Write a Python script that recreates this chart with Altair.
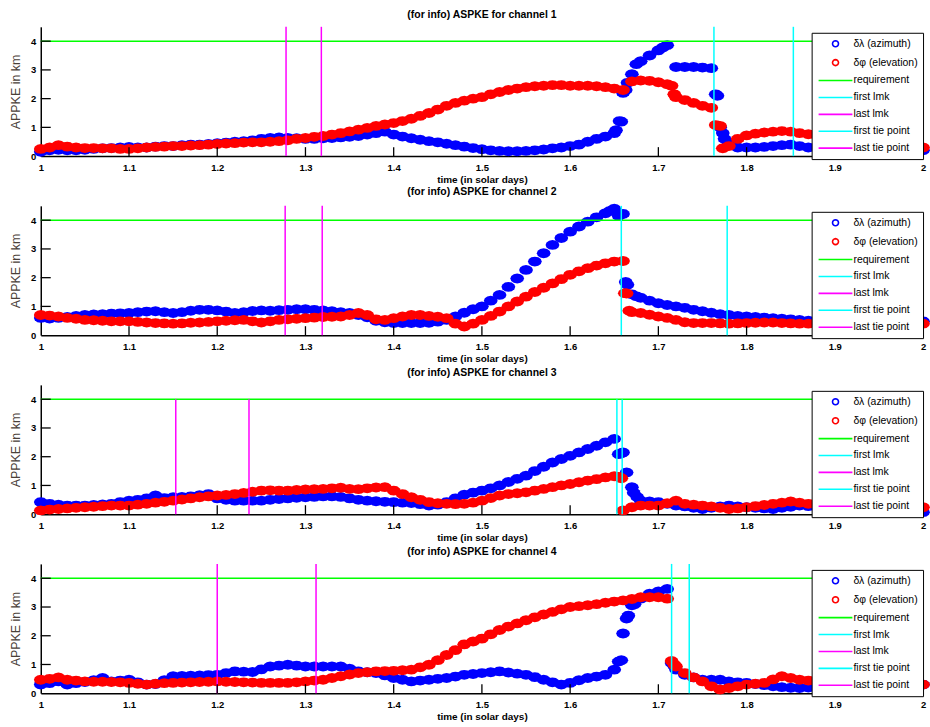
import altair as alt
import pandas as pd

# ---------------- data ----------------
TIME = [round(1 + i / 100, 2) for i in range(101)]

X_TICKS = [1.0, 1.1, 1.2, 1.3, 1.4, 1.5, 1.6, 1.7, 1.8, 1.9, 2.0]
Y_TICKS = [0, 1, 2, 3, 4]
INNER_X_TICKS = [1.1, 1.2, 1.3, 1.4, 1.5, 1.6, 1.7, 1.8, 1.9]
INNER_Y_TICKS = [1, 2, 3, 4]

LABELS = ["δλ (azimuth)", "δφ (elevation)", "requirement", "first lmk",
          "last lmk", "first tie point", "last tie point"]
COLORS = ["#0000ff", "#ff0000", "#00ff00", "#00ffff", "#ff00ff", "#00ffff", "#ff00ff"]

TITLES = ["(for info) ASPKE for channel 1", "(for info) ASPKE for channel 2",
          "(for info) ASPKE for channel 3", "(for info) ASPKE for channel 4"]

REQUIREMENT = 4.0
FIRST_LMK = [1.763, 1.658, 1.653, 1.715]
FIRST_TIE = [1.853, 1.778, 1.659, 1.735]
LAST_LMK = [1.278, 1.277, 1.153, 1.200]
LAST_TIE = [1.318, 1.319, 1.236, 1.312]
LINE_TOP = [4.5, 4.5, 4.0, 4.5]

P1_AZ = [0.15, 0.2, 0.22, 0.2, 0.2, 0.22, 0.25, 0.27, 0.28, 0.3,
         0.32, 0.3, 0.3, 0.33, 0.35, 0.35, 0.38, 0.4, 0.4, 0.42,
         0.45, 0.47, 0.5, 0.52, 0.55, 0.6, 0.63, 0.65, 0.63, 0.62,
         0.6, 0.6, 0.62, 0.63, 0.65, 0.67, 0.7, 0.75, 0.8, 0.85,
         0.75, 0.68, 0.62, 0.57, 0.52, 0.48, 0.43, 0.38, 0.33, 0.28,
         0.24, 0.2, 0.18, 0.17, 0.17, 0.18, 0.2, 0.23, 0.27, 0.3,
         0.35, 0.4, 0.5, 0.6, 0.68, 0.8, 2.2, 2.85, 3.3, 3.5,
         3.68, 3.86, 3.1, 3.1, 3.1, 3.08, 3.06, 1.0, 0.45, 0.3,
         0.3, 0.3, 0.32, 0.35, 0.38, 0.4, 0.35, 0.3, 0.3, 0.28,
         0.25, 0.25, 0.25, 0.25, 0.25, 0.25, 0.22, 0.22, 0.22, 0.2, 0.2]
P1_AZ_EXTRA = [(1.652, 0.9), (1.656, 1.22), (1.658, 1.2), (1.663, 2.3), (1.665, 2.55),
               (1.675, 3.2), (1.705, 3.78), (1.765, 2.15), (1.767, 2.1), (1.773, 0.8),
               (1.775, 0.6)]
P1_EL = [0.25, 0.3, 0.38, 0.33, 0.3, 0.28, 0.28, 0.27, 0.27, 0.25,
         0.25, 0.27, 0.3, 0.32, 0.33, 0.35, 0.35, 0.37, 0.38, 0.4,
         0.42, 0.44, 0.45, 0.47, 0.48, 0.48, 0.5, 0.52, 0.55, 0.6,
         0.63, 0.67, 0.7, 0.75, 0.8, 0.86, 0.92, 0.98, 1.05, 1.1,
         1.15, 1.22, 1.3, 1.4, 1.5, 1.62, 1.75, 1.85, 1.93, 2.0,
         2.05, 2.15, 2.23, 2.3, 2.35, 2.4, 2.43, 2.45, 2.47, 2.47,
         2.45, 2.45, 2.45, 2.43, 2.4, 2.35, 2.3, 2.6, 2.63, 2.62,
         2.57, 2.5, 2.05, 1.95, 1.85, 1.75, 1.68, 1.05, 0.35, 0.6,
         0.72, 0.78, 0.82, 0.85, 0.87, 0.85, 0.8, 0.76, 0.72, 0.68,
         0.65, 0.6, 0.55, 0.5, 0.45, 0.42, 0.38, 0.35, 0.32, 0.3, 0.3]
P1_EL_EXTRA = [(1.715, 2.45), (1.718, 2.15), (1.765, 1.08), (1.773, 0.27)]

P2_AZ = [0.6, 0.58, 0.6, 0.63, 0.67, 0.7, 0.72, 0.73, 0.75, 0.76,
         0.77, 0.8, 0.82, 0.83, 0.8, 0.77, 0.8, 0.85, 0.88, 0.88,
         0.86, 0.82, 0.77, 0.8, 0.84, 0.86, 0.85, 0.87, 0.88, 0.9,
         0.9, 0.88, 0.86, 0.83, 0.8, 0.77, 0.7, 0.62, 0.5, 0.45,
         0.42, 0.42, 0.42, 0.42, 0.43, 0.47, 0.53, 0.65, 0.78, 0.9,
         1.0, 1.2, 1.4, 1.68, 1.97, 2.27, 2.56, 2.85, 3.14, 3.38,
         3.6, 3.78, 3.95, 4.1, 4.24, 4.4, 4.22, 1.42, 1.3, 1.2,
         1.11, 1.05, 1.0, 0.95, 0.88, 0.83, 0.78, 0.73, 0.7, 0.67,
         0.65, 0.63, 0.61, 0.59, 0.57, 0.55, 0.53, 0.5, 0.48, 0.47,
         0.45, 0.45, 0.45, 0.45, 0.46, 0.46, 0.46, 0.47, 0.47, 0.48, 0.48]
P2_AZ_EXTRA = [(1.645, 4.32), (1.655, 4.15), (1.663, 1.85), (1.665, 1.75), (1.675, 1.35)]
P2_EL = [0.7, 0.68, 0.65, 0.6, 0.57, 0.53, 0.52, 0.5, 0.48, 0.48,
         0.48, 0.46, 0.44, 0.42, 0.41, 0.4, 0.41, 0.43, 0.44, 0.46,
         0.48, 0.5, 0.52, 0.53, 0.48, 0.44, 0.48, 0.53, 0.55, 0.57,
         0.59, 0.61, 0.63, 0.64, 0.65, 0.7, 0.77, 0.7, 0.55, 0.53,
         0.59, 0.65, 0.7, 0.7, 0.67, 0.64, 0.59, 0.4, 0.3, 0.4,
         0.53, 0.67, 0.82, 1.0, 1.17, 1.34, 1.5, 1.65, 1.8, 1.95,
         2.1, 2.22, 2.33, 2.42, 2.5, 2.56, 2.58, 0.8, 0.77, 0.71,
         0.65, 0.6, 0.53, 0.45, 0.42, 0.42, 0.42, 0.41, 0.4, 0.41,
         0.42, 0.43, 0.44, 0.44, 0.42, 0.41, 0.4, 0.4, 0.4, 0.4,
         0.4, 0.4, 0.4, 0.4, 0.4, 0.4, 0.4, 0.4, 0.4, 0.4, 0.4]
P2_EL_EXTRA = [(1.662, 1.46), (1.664, 1.45), (1.667, 0.85)]

P3_AZ = [0.42, 0.36, 0.33, 0.3, 0.3, 0.3, 0.32, 0.34, 0.36, 0.42,
         0.47, 0.5, 0.55, 0.65, 0.56, 0.59, 0.6, 0.62, 0.66, 0.7,
         0.55, 0.5, 0.47, 0.47, 0.47, 0.47, 0.5, 0.53, 0.55, 0.57,
         0.59, 0.6, 0.62, 0.62, 0.6, 0.55, 0.5, 0.47, 0.45, 0.43,
         0.42, 0.4, 0.39, 0.35, 0.3, 0.33, 0.42, 0.55, 0.68, 0.75,
         0.82, 0.9, 1.0, 1.12, 1.23, 1.34, 1.5, 1.65, 1.8, 1.92,
         2.03, 2.15, 2.27, 2.38, 2.5, 2.62, 2.15, 0.94, 0.47, 0.44,
         0.42, 0.36, 0.3, 0.27, 0.22, 0.18, 0.22, 0.27, 0.3, 0.27,
         0.24, 0.22, 0.2, 0.18, 0.22, 0.26, 0.3, 0.28, 0.25, 0.22,
         0.2, 0.2, 0.18, 0.17, 0.15, 0.14, 0.12, 0.1, 0.1, 0.08, 0.07]
P3_AZ_EXTRA = [(1.655, 2.09), (1.658, 2.12), (1.664, 1.45), (1.672, 0.75), (1.676, 0.6)]
P3_EL = [0.13, 0.16, 0.18, 0.2, 0.22, 0.24, 0.26, 0.28, 0.3, 0.3,
         0.3, 0.33, 0.36, 0.4, 0.43, 0.47, 0.51, 0.55, 0.59, 0.62,
         0.65, 0.67, 0.7, 0.74, 0.78, 0.82, 0.83, 0.82, 0.82, 0.84,
         0.86, 0.87, 0.88, 0.9, 0.92, 0.88, 0.87, 0.9, 0.93, 0.94,
         0.82, 0.7, 0.59, 0.5, 0.42, 0.38, 0.36, 0.35, 0.36, 0.4,
         0.47, 0.56, 0.65, 0.7, 0.73, 0.76, 0.82, 0.88, 0.94, 1.0,
         1.05, 1.11, 1.17, 1.22, 1.28, 1.32, 0.13, 0.24, 0.3, 0.3,
         0.3, 0.38, 0.47, 0.36, 0.33, 0.3, 0.27, 0.22, 0.18, 0.2,
         0.24, 0.28, 0.32, 0.36, 0.4, 0.44, 0.4, 0.36, 0.34, 0.32,
         0.3, 0.3, 0.28, 0.28, 0.27, 0.26, 0.25, 0.25, 0.24, 0.24, 0.24]
P3_EL_EXTRA = [(1.655, 1.3), (1.658, 1.25)]

P4_AZ = [0.3, 0.35, 0.41, 0.3, 0.35, 0.39, 0.45, 0.53, 0.41, 0.44,
         0.47, 0.38, 0.3, 0.32, 0.45, 0.59, 0.6, 0.61, 0.62, 0.63,
         0.64, 0.7, 0.76, 0.75, 0.74, 0.83, 0.93, 0.96, 0.99, 0.96,
         0.93, 0.93, 0.93, 0.93, 0.93, 0.85, 0.76, 0.73, 0.7, 0.62,
         0.53, 0.47, 0.41, 0.44, 0.47, 0.5, 0.53, 0.58, 0.64, 0.67,
         0.7, 0.73, 0.76, 0.72, 0.68, 0.64, 0.56, 0.47, 0.38, 0.3,
         0.36, 0.45, 0.53, 0.58, 0.64, 0.82, 2.08, 3.06, 3.29, 3.46,
         3.54, 3.63, 0.82, 0.64, 0.55, 0.47, 0.47, 0.47, 0.41, 0.38,
         0.36, 0.32, 0.28, 0.24, 0.21, 0.19, 0.18, 0.2, 0.22, 0.24,
         0.25, 0.26, 0.27, 0.28, 0.28, 0.29, 0.29, 0.3, 0.3, 0.3, 0.3]
P4_AZ_EXTRA = [(1.655, 1.1), (1.658, 1.15), (1.664, 2.6), (1.666, 2.7), (1.673, 3.1),
               (1.715, 1.05), (1.718, 0.95)]
P4_EL = [0.47, 0.5, 0.55, 0.47, 0.44, 0.41, 0.4, 0.4, 0.39, 0.38,
         0.36, 0.33, 0.3, 0.33, 0.35, 0.36, 0.37, 0.38, 0.39, 0.4,
         0.41, 0.4, 0.39, 0.38, 0.37, 0.36, 0.36, 0.36, 0.36, 0.38,
         0.41, 0.44, 0.47, 0.53, 0.59, 0.65, 0.7, 0.73, 0.76, 0.77,
         0.78, 0.8, 0.82, 0.9, 0.99, 1.15, 1.33, 1.5, 1.7, 1.8,
         1.9, 2.05, 2.2, 2.32, 2.43, 2.54, 2.64, 2.74, 2.83, 2.92,
         3.0, 3.03, 3.06, 3.1, 3.15, 3.19, 3.23, 3.28, 3.34, 3.34,
         3.34, 3.29, 0.93, 0.7, 0.55, 0.41, 0.24, 0.13, 0.18, 0.24,
         0.3, 0.33, 0.36, 0.48, 0.59, 0.53, 0.47, 0.44, 0.41, 0.4,
         0.38, 0.37, 0.36, 0.35, 0.34, 0.33, 0.32, 0.31, 0.3, 0.3, 0.3]
P4_EL_EXTRA = [(1.715, 1.12), (1.718, 1.0)]

AZIMUTH = [P1_AZ, P2_AZ, P3_AZ, P4_AZ]
AZIMUTH_EXTRA = [P1_AZ_EXTRA, P2_AZ_EXTRA, P3_AZ_EXTRA, P4_AZ_EXTRA]
ELEVATION = [P1_EL, P2_EL, P3_EL, P4_EL]
ELEVATION_EXTRA = [P1_EL_EXTRA, P2_EL_EXTRA, P3_EL_EXTRA, P4_EL_EXTRA]

# ---------------- style ----------------
FONT = "Liberation Sans"
W, H = 887, 130

# marker shapes (unit coordinates, scaled by the symbol size)
BLOB = ("M1.4,0L1.212,0.5L0.7,0.866L0,1L-0.7,0.866L-1.212,0.5L-1.4,0"
        "L-1.212,-0.5L-0.7,-0.866L0,-1L0.7,-0.866L1.212,-0.5Z")
RING = ("M0.6,0L0.554,0.23L0.424,0.424L0.23,0.554L0,0.6L-0.23,0.554L-0.424,0.424"
        "L-0.554,0.23L-0.6,0L-0.554,-0.23L-0.424,-0.424L-0.23,-0.554L0,-0.6"
        "L0.23,-0.554L0.424,-0.424L0.554,-0.23Z")
DASH = "M-3.4,0L3.4,0"
SHAPES = [RING, RING, DASH, DASH, DASH, DASH, DASH]

x_enc = alt.X("t:Q", scale=alt.Scale(domain=[1, 2], nice=False, zero=False),
              axis=alt.Axis(values=X_TICKS, format="~g", labelFlush=False, ticks=False,
                            grid=False, domainColor="black", domainWidth=1.5,
                            labelPadding=6, titlePadding=3),
              title="time (in solar days)")
y_enc = alt.Y("v:Q", scale=alt.Scale(domain=[0, 4.5], nice=False),
              axis=alt.Axis(values=Y_TICKS, ticks=False, grid=False, domainColor="black",
                            domainWidth=1.5, labelPadding=5, titlePadding=8,
                            titleColor="#4a4038", titleFontWeight="normal", titleFontSize=12.5),
              title="APPKE in km")

legend = alt.Legend(title=None, orient="none", legendX=775, legendY=6,
                    strokeColor="black", fillColor="white", padding=5,
                    labelFont=FONT, labelFontSize=10.5, labelColor="black",
                    symbolSize=100, symbolOffset=13, labelOffset=12, rowPadding=5,
                    symbolStrokeWidth=1.6, symbolFillColor="transparent", cornerRadius=0)


def panel(k):
    rows = []
    for t, v in zip(TIME, AZIMUTH[k]):
        rows.append({"t": t, "v": v, "series": LABELS[0]})
    for t, v in AZIMUTH_EXTRA[k]:
        rows.append({"t": t, "v": v, "series": LABELS[0]})
    for t, v in zip(TIME, ELEVATION[k]):
        rows.append({"t": t, "v": v, "series": LABELS[1]})
    for t, v in ELEVATION_EXTRA[k]:
        rows.append({"t": t, "v": v, "series": LABELS[1]})
    pts = pd.DataFrame(rows)

    # legend carrier (draws nothing, only defines the legend)
    key = alt.Chart(pts).transform_filter("datum.t > 5").mark_point(
        filled=False, size=100, strokeWidth=1.6, opacity=1).encode(
        x=x_enc, y=y_enc,
        stroke=alt.Stroke("series:N", scale=alt.Scale(domain=LABELS, range=COLORS), legend=legend),
        shape=alt.Shape("series:N", scale=alt.Scale(domain=LABELS, range=SHAPES), legend=legend),
    )

    points = alt.Chart(pts).mark_point(shape=BLOB, filled=True, size=98, opacity=1,
                                       strokeWidth=0).encode(
        x=x_enc, y=y_enc,
        color=alt.Color("series:N", scale=alt.Scale(domain=LABELS[:2], range=COLORS[:2]),
                        legend=None),
    )

    req = alt.Chart(pd.DataFrame({"v": [REQUIREMENT]})).mark_rule(
        color="#00ff00", strokeWidth=1.5).encode(y=y_enc)

    cyan = alt.Chart(pd.DataFrame({"t": [FIRST_LMK[k], FIRST_TIE[k]], "v": [0, 0],
                                   "v2": [LINE_TOP[k], LINE_TOP[k]]})).mark_rule(
        color="#00ffff", strokeWidth=1.5).encode(x=x_enc, y=y_enc, y2="v2:Q")
    magenta = alt.Chart(pd.DataFrame({"t": [LAST_LMK[k], LAST_TIE[k]], "v": [0, 0],
                                      "v2": [LINE_TOP[k], LINE_TOP[k]]})).mark_rule(
        color="#ff00ff", strokeWidth=1.5).encode(x=x_enc, y=y_enc, y2="v2:Q")

    xt = alt.Chart(pd.DataFrame({"t": INNER_X_TICKS})).mark_rule(
        color="black", strokeWidth=1.3).encode(x=x_enc, y=alt.value(H), y2=alt.value(H - 9))
    yt = alt.Chart(pd.DataFrame({"v": INNER_Y_TICKS})).mark_rule(
        color="black", strokeWidth=1.3).encode(y=y_enc, x=alt.value(0), x2=alt.value(10))

    return alt.layer(key, points, req, cyan, magenta, xt, yt).properties(
        width=W, height=H, title=TITLES[k])


chart = alt.vconcat(*[panel(k) for k in range(4)], spacing=50, bounds="flush").resolve_scale(
    color="independent", shape="independent", stroke="independent"
).properties(
    padding={"left": 9, "top": 7, "right": 0, "bottom": 0},
    background="white",
).configure_view(stroke=None).configure_axis(
    labelFont=FONT, labelFontSize=9.5, labelFontWeight="bold", labelColor="black",
    titleFont=FONT, titleFontSize=10, titleFontWeight="bold", titleColor="black",
).configure_title(
    font=FONT, fontSize=10.5, fontWeight="bold", color="black", offset=6, anchor="middle"
)

chart.save("out.html", embed_options={"renderer": "svg", "actions": False})
